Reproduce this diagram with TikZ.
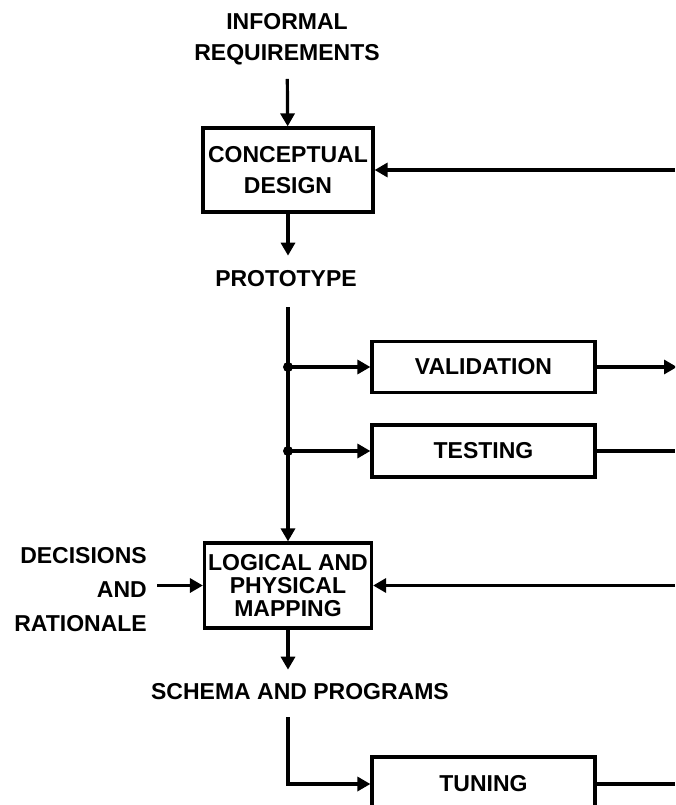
\documentclass[tikz,border=0pt]{standalone}
\usepackage{fontspec}
\setmainfont{Liberation Sans}
\usetikzlibrary{positioning,arrows.meta}

\begin{document}
\begin{tikzpicture}[
    x=1pt, y=-1pt,
    stage/.style={rectangle, draw, line width=3.2pt, inner sep=0pt, align=center, font=\fontsize{23}{31}\selectfont\bfseries},
    lbl/.style={inner sep=0pt, align=center, font=\fontsize{23}{31}\selectfont\bfseries},
    flow/.style={line width=3.2pt, -{Triangle[length=13pt,width=14pt]}},
    wire/.style={line width=3.2pt},
    junction/.style={circle, fill, inner sep=0pt, minimum size=10pt},
]
\useasboundingbox (0,0) rectangle (675,805);
\clip (0,0) rectangle (675,805);

% Conceptual design
\node[lbl] (req) at (287,39) {INFORMAL\\REQUIREMENTS};
\node[stage, minimum width=170pt, minimum height=84pt] (concept) at (288,170) {CONCEPTUAL\\DESIGN};
\node[lbl] (proto) at (286,279) {PROTOTYPE};

% Validation and testing
\coordinate (split) at (288,307);
\node[junction] (j1) at (288,367) {};
\node[junction] (j2) at (288,451) {};
\node[stage, minimum width=223pt, minimum height=51pt] (valid) at (483.5,367) {VALIDATION};
\node[stage, minimum width=223pt, minimum height=52pt] (test) at (483.5,451) {TESTING};

% Mapping
\node[stage, minimum width=167pt, minimum height=85pt, font=\fontsize{23}{23}\selectfont\bfseries] (map) at (288,585.5) {LOGICAL AND\\PHYSICAL\\MAPPING};
\node[lbl, anchor=east, align=right, font=\fontsize{23}{34}\selectfont\bfseries] (dec) at (147,590) {DECISIONS\\AND\\RATIONALE};
\node[lbl] (schema) at (300,692) {SCHEMA AND PROGRAMS};

% Tuning
\coordinate (split2) at (288,717);
\node[stage, minimum width=223pt, minimum height=54pt] (tune) at (483.5,784) {TUNING};

% Feedback ends at the right margin
\coordinate (e1) at (675,170);
\coordinate (e2) at (677,367);
\coordinate (e3) at (675,451);
\coordinate (e4) at (675,585.5);
\coordinate (e5) at (675,784);

% Connectors
\draw[flow, shorten <=14pt] (req) -- (concept);
\draw[flow] (e1) -- (concept.east);
\draw[flow, shorten >=15pt] (concept.south) -- (concept.south |- proto.north);
\draw[flow] (split) -- (map.north);
\draw[flow] (j1.center) -- (valid.west);
\draw[flow] (j2.center) -- (test.west);
\draw[flow] (valid.east) -- (e2);
\draw[wire] (test.east) -- (e3);
\draw[flow, shorten <=10pt] (dec.east |- map.west) -- (map.west);
\draw[flow] (e4) -- (map.east);
\draw[flow, shorten >=14pt] (map.south) -- (map.south |- schema.north);
\draw[flow] (split2) |- (tune.west);
\draw[wire] (tune.east) -- (e5);

\end{tikzpicture}
\end{document}
